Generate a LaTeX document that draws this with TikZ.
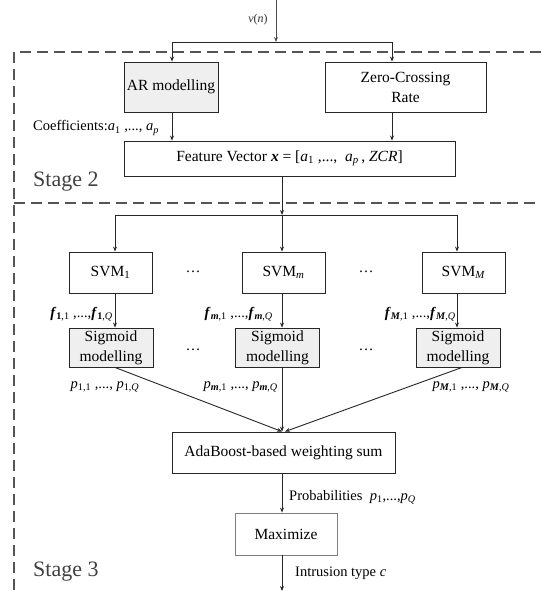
\documentclass[tikz,border=0pt]{standalone}
\usepackage{fontspec}
\setmainfont{Liberation Serif}
\usetikzlibrary{arrows.meta}
\newcommand{\sbs}[1]{\textsubscript{#1}}
\newcommand{\bi}[1]{\textbf{\textit{#1}}}
\definecolor{boxfill}{HTML}{EFEFEF}
\definecolor{dashc}{HTML}{555555}
\tikzset{
  blk/.style={draw=black!85, line width=0.9pt, inner sep=0pt, align=center, font=\fontsize{15.5}{17}\selectfont},
  gblk/.style={blk, fill=boxfill},
  lbl/.style={inner sep=0pt, font=\fontsize{14.5}{16}\selectfont},
  dotlbl/.style={inner sep=0pt, font=\fontsize{15}{16}\selectfont},
  stagelbl/.style={inner sep=0pt, font=\fontsize{22}{24}\selectfont, text=black!75},
  conn/.style={line width=0.9pt, draw=black!85},
  arr/.style={conn, -{Stealth[length=5pt,width=4pt]}},
  dsh/.style={draw=dashc, line width=1.1pt, dash pattern=on 11pt off 6pt},
}
\begin{document}
\begin{tikzpicture}[x=1pt,y=-1pt]
\useasboundingbox (0,0) rectangle (541,591);
% dashed stage frames
\draw[dsh] (541,52) -- (14,52) -- (14,591);
\draw[dsh] (14,203) -- (541,203);
\node[stagelbl, anchor=west] (st2) at (33,182) {Stage 2};
\node[stagelbl, anchor=west] (st3) at (33,572) {Stage 3};

% stage 2 boxes
\node[gblk, minimum width=94pt, minimum height=50pt] (ar) at (171,87) {AR modelling};
\node[blk, minimum width=161pt, minimum height=50pt] (zcr) at (405.5,87) {Zero-Crossing\\[3pt]Rate};
\node[blk, minimum width=331pt, minimum height=35pt] (fv) at (289.5,158.5)
  {Feature Vector \bi{x} = [\textit{a}\sbs{1} ,...,\ \ \textit{a\sbs{p}}\,, \textit{ZCR}]};

% input
\coordinate (in) at (276,0);
\coordinate (split) at (276,42);
\coordinate (sl) at (172,42);
\coordinate (sr) at (392,42);
\node[inner sep=0pt, font=\fontsize{12}{14}\selectfont, text=black!80] (vn) at (258,20) {\textit{v}(\textit{n})};
\draw[arr, draw=black!70] (in) -- (split);
\draw[conn] (sl) -- (sr);
\draw[arr] (sl) -- (sl |- ar.north);
\draw[arr] (sr) -- (sr |- zcr.north);
\draw[arr] (sl |- ar.south) -- (sl |- fv.north);
\draw[arr] (sr |- zcr.south) -- (sr |- fv.north);
\node[lbl, anchor=west] (coef) at (33,128) {Coefficients:\textit{a}\sbs{1} ,..., \textit{a\sbs{p}}};

% stage 3
\node[blk, minimum width=83pt, minimum height=41pt] (svm1) at (110.5,272.5) {SVM\sbs{1}};
\node[blk, minimum width=83pt, minimum height=41pt] (svmm) at (283.5,272.5) {SVM\sbs{\textit{m}}};
\node[blk, minimum width=83pt, minimum height=41pt] (svmM) at (463.5,272.5) {SVM\sbs{\textit{M}}};
\node[gblk, minimum width=84pt, minimum height=39pt] (sig1) at (111,347.5) {Sigmoid\\[3pt]modelling};
\node[gblk, minimum width=84pt, minimum height=39pt] (sigm) at (277.5,347.5) {Sigmoid\\[3pt]modelling};
\node[gblk, minimum width=84pt, minimum height=39pt] (sigM) at (458,347.5) {Sigmoid\\[3pt]modelling};
\foreach \n/\x/\y in {d1/193/272, d2/366/272, d3/193/350, d4/366/350}
  \node[dotlbl] (\n) at (\x,\y) {…};

\coordinate (b2) at (282,215);
\coordinate (bl) at (115,215);
\coordinate (br) at (457,215);
\draw[arr] (fv.south -| b2) -- (b2);
\draw[conn] (bl) -- (br);
\draw[arr] (bl) -- (bl |- svm1.north);
\draw[arr] (b2) -- (b2 |- svmm.north);
\draw[arr] (br) -- (br |- svmM.north);
\draw[arr] (bl |- svm1.south) -- (bl |- sig1.north);
\draw[arr] (b2 |- svmm.south) -- (b2 |- sigm.north);
\draw[arr] (br |- svmM.south) -- (br |- sigM.north);

\node[lbl, anchor=east] (f1) at (113,314) {\bi{f}\sbs{\textbf{1},1} ,...,\bi{f}\sbs{\textbf{1},\textit{Q}}};
\node[lbl, anchor=east] (fm) at (273,314) {\bi{f}\sbs{\bi{m},1} ,...,\bi{f}\sbs{\bi{m},\textit{Q}}};
\node[lbl, anchor=east] (fM) at (456,314) {\bi{f}\sbs{\bi{M},1} ,...,\bi{f}\sbs{\bi{M},\textit{Q}}};

\node[blk, minimum width=223pt, minimum height=41pt] (ada) at (283.5,452.5) {AdaBoost-based weighting sum};
\node[blk, draw=black!50, minimum width=102pt, minimum height=42pt] (max) at (286,534) {Maximize};
\coordinate (out) at (282,591);

\draw[arr] (sig1.south -| 115,0) -- (ada.north -| 282,0);
\draw[arr] (sigm.south -| b2) -- (ada.north -| b2);
\draw[arr] (sigM.south -| 462,0) -- (ada.north -| 285,0);
\draw[arr] (ada.south -| b2) -- (max.north -| b2);
\draw[arr] (max.south -| b2) -- (out);

\node[lbl] (p1) at (105,387) {\textit{p}\sbs{1,1} ,..., \textit{p}\sbs{1,\textit{Q}}};
\node[lbl, anchor=east] (pm) at (278,387) {\textit{p}\sbs{\bi{m},1} ,..., \textit{p}\sbs{\bi{m},\textit{Q}}};
\node[lbl] (pM) at (471,387) {\textit{p}\sbs{\bi{M},1} ,..., \textit{p}\sbs{\bi{M},\textit{Q}}};
\node[lbl, anchor=west] (prob) at (289,497) {Probabilities\ \ \textit{p}\sbs{1},...,\textit{p}\sbs{\textit{Q}}};
\node[lbl, anchor=west] (intr) at (295,573) {Intrusion type \textit{c}};
\end{tikzpicture}
\end{document}
